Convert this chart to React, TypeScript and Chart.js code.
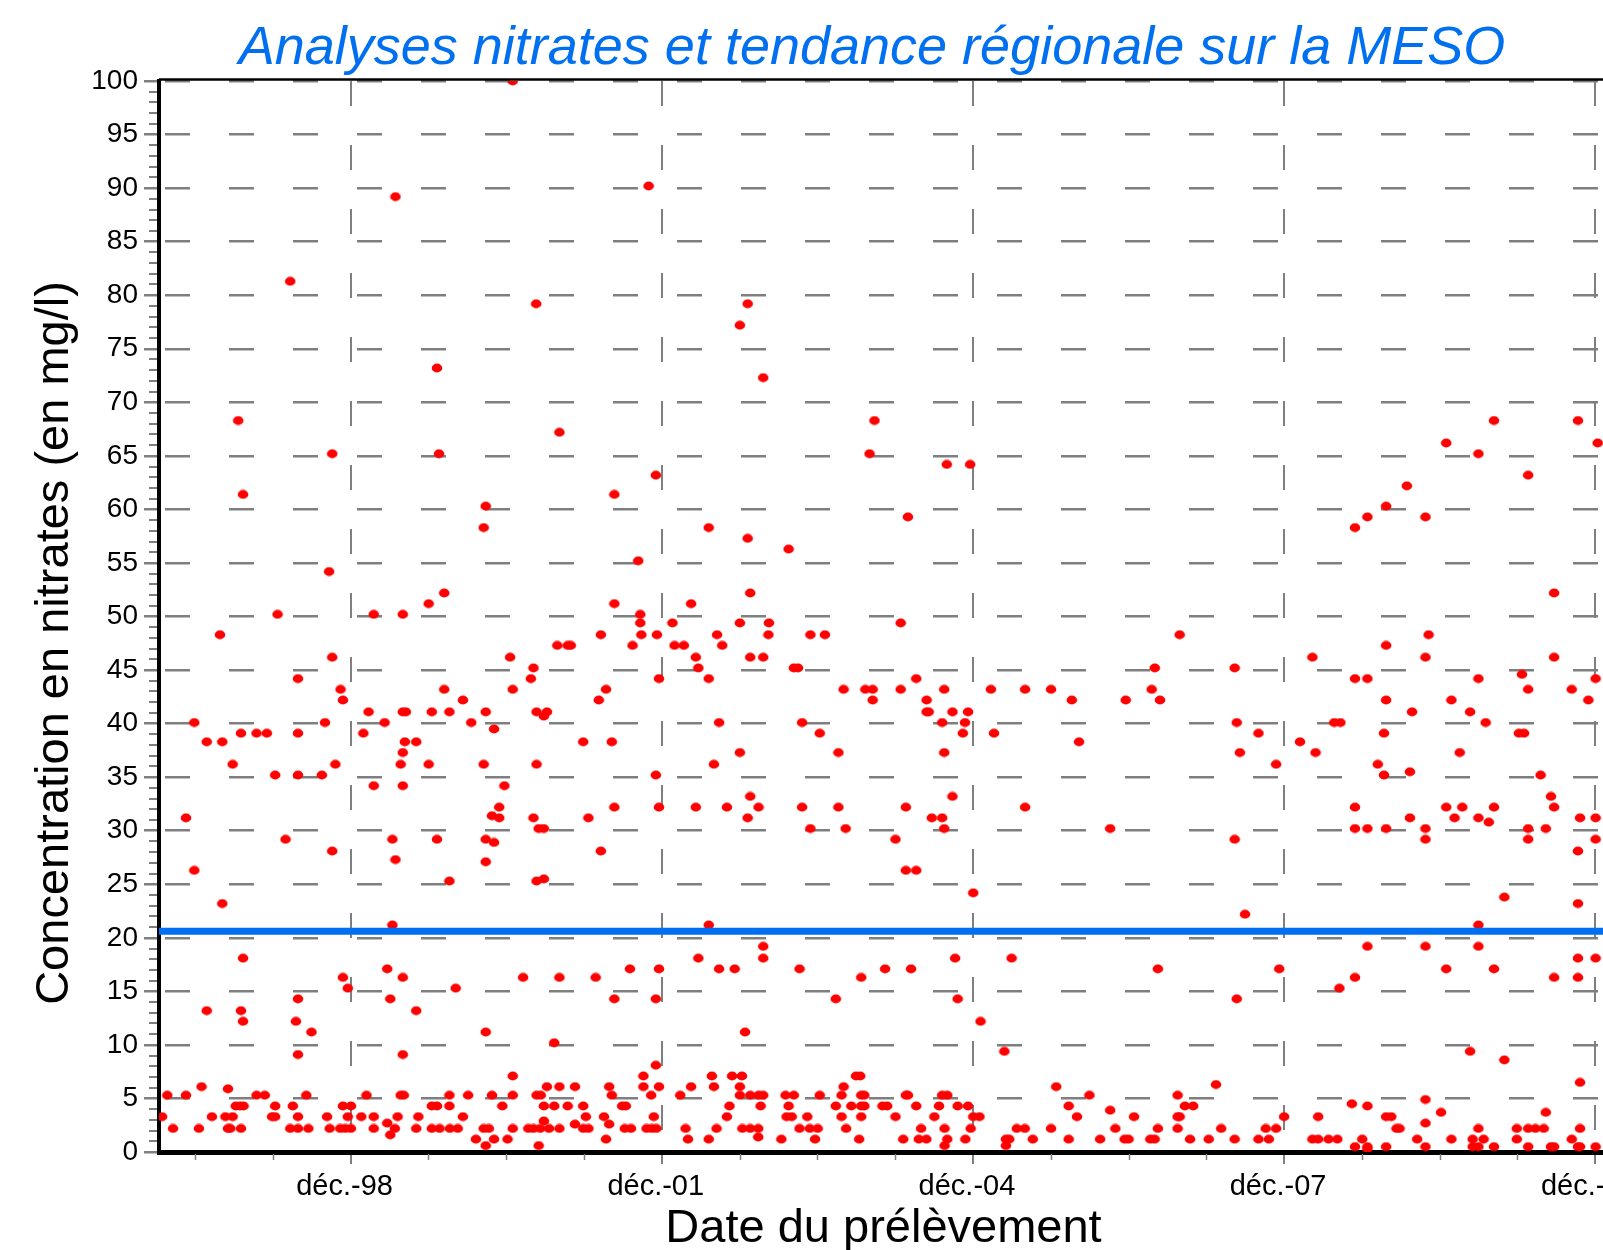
import React, { useEffect, useRef } from "react";
import { Chart, registerables } from "chart.js";

Chart.register(...registerables);

const FONT = '"Liberation Sans", Arial, Helvetica, sans-serif';

const chartTitle = "Analyses nitrates et tendance régionale sur la MESO";
const yAxisTitle = "Concentration en nitrates (en mg/l)";
const xAxisTitle = "Date du prélèvement";

// x axis: decimal years
const xAxisRange = [1997.07, 2011.04];
const xTickYears = [1998.917, 2001.917, 2004.917, 2007.917, 2010.917];
const xTickLabels = ["déc.-98", "déc.-01", "déc.-04", "déc.-07", "déc.-10"];
const xMinorStepYears = 0.75;

// y axis
const yAxisRange = [0, 100];
const yMajorStep = 5;
const yMinorStep = 1;

// regional trend (mg/l)
const regionalTrend = 20.6;

// [decimal year, nitrates mg/l]
const samples1997to2001 = [
  [2000.48, 100], [2001.79, 90.2], [1999.35, 89.2], [1998.335, 81.3], [2000.706, 79.2], [1999.75, 73.2],
  [1997.834, 68.3], [2000.93, 67.2], [1998.74, 65.2], [1999.77, 65.2], [2001.86, 63.2], [1997.88, 61.4],
  [2001.46, 61.4], [2000.22, 60.3], [2000.2, 58.3], [2001.69, 55.2], [1998.71, 54.2], [1999.82, 52.2],
  [1999.67, 51.2], [2001.46, 51.2], [1998.213, 50.2], [1999.14, 50.2], [1999.42, 50.2], [2001.71, 50.2],
  [2001.71, 49.4],
  [1997.658, 48.3], [2001.72, 48.3], [2001.87, 48.3], [2001.33, 48.3],
  [2000.91, 47.3], [2001.01, 47.3], [2001.04, 47.3], [2001.635, 47.3],
  [1998.74, 46.2], [2000.455, 46.2], [2000.68, 45.2],
  [1998.41, 44.2], [2000.655, 44.2], [2001.89, 44.2],
  [1998.82, 43.2], [1999.82, 43.2], [2000.48, 43.2], [2001.38, 43.2],
  [1998.843, 42.2], [2000.0, 42.2], [2001.31, 42.2],
  [1999.09, 41.1], [1999.42, 41.1], [1999.45, 41.1], [1999.7, 41.1], [1999.87, 41.1], [2000.22, 41.1],
  [2000.71, 41.1], [2000.81, 41.1], [2000.78, 40.7],
  [1997.41, 40.1], [1998.67, 40.1], [1999.245, 40.1], [2000.08, 40.1], [2000.3, 39.5],
  [1997.86, 39.1], [1998.01, 39.1], [1998.11, 39.1], [1998.41, 39.1], [1999.04, 39.1],
  [1997.53, 38.3], [1997.68, 38.3], [1999.44, 38.3], [1999.55, 38.3], [2001.16, 38.3], [2001.435, 38.3],
  [1999.42, 37.3],
  [1997.78, 36.2], [1998.77, 36.2], [1999.4, 36.2], [1999.67, 36.2], [2000.2, 36.2], [2000.71, 36.2],
  [1998.19, 35.2], [1998.41, 35.2], [1998.64, 35.2], [2001.86, 35.2],
  [1999.14, 34.2], [1999.42, 34.2], [2000.4, 34.2],
  [2000.35, 32.2], [2001.46, 32.2], [2001.89, 32.2], [2000.28, 31.4],
  [1997.33, 31.2], [2000.35, 31.2], [2000.68, 31.2], [2001.21, 31.2],
  [2000.73, 30.2], [2000.78, 30.2],
  [1998.29, 29.2], [1999.32, 29.2], [1999.75, 29.2], [2000.22, 29.2], [2000.3, 28.9],
  [1998.74, 28.1], [2001.33, 28.1], [1999.35, 27.3], [2000.22, 27.1], [1997.41, 26.3],
  [1999.87, 25.3], [2000.71, 25.3], [2000.78, 25.5], [1997.68, 23.2], [1999.32, 21.2], [1997.88, 18.1],
  [1999.27, 17.1], [2001.61, 17.1], [2001.89, 17.1],
  [1998.843, 16.3], [1999.42, 16.3], [2000.58, 16.3], [2000.93, 16.3], [2001.28, 16.3],
  [1998.89, 15.3], [1999.93, 15.3],
  [1998.41, 14.3], [1999.3, 14.3], [2001.46, 14.3], [2001.86, 14.3],
  [1997.53, 13.2], [1997.86, 13.2], [1999.55, 13.2], [1997.88, 12.2], [1998.39, 12.2],
  [1998.54, 11.2], [2000.22, 11.2], [2000.88, 10.2], [1998.41, 9.1], [1999.42, 9.1], [2001.86, 8.1],
  [2000.48, 7.1], [2001.74, 7.1],
  [1997.48, 6.1], [2000.81, 6.1], [2000.93, 6.1], [2001.08, 6.1], [2001.41, 6.1], [2001.74, 6.1], [2001.89, 6.1],
  [1997.735, 5.9],
  [1997.15, 5.3], [1997.33, 5.3], [1998.01, 5.3], [1998.09, 5.3], [1998.49, 5.3], [1999.07, 5.3],
  [1999.4, 5.3], [1999.43, 5.3], [1999.87, 5.3], [2000.05, 5.3], [2000.28, 5.3], [2000.48, 5.3],
  [2000.71, 5.3], [2000.75, 5.3], [2001.435, 5.3], [2001.815, 5.3],
  [1997.81, 4.3], [1997.85, 4.3], [1997.885, 4.3], [1998.19, 4.3], [1998.36, 4.3], [1998.843, 4.3],
  [1998.92, 4.3], [1999.7, 4.3], [1999.75, 4.3], [1999.87, 4.3], [2000.38, 4.3], [2000.78, 4.3],
  [2000.88, 4.3], [2001.01, 4.3], [2001.16, 4.3], [2001.535, 4.3], [2001.57, 4.3],
  [1997.1, 3.3], [1997.58, 3.3], [1997.71, 3.3], [1997.78, 3.3], [1998.16, 3.3], [1998.19, 3.3],
  [1998.41, 3.3], [1998.69, 3.3], [1998.89, 3.3], [1999.02, 3.3], [1999.14, 3.3], [1999.37, 3.3],
  [1999.57, 3.3], [2000.0, 3.3], [2001.185, 3.3], [2001.36, 3.3], [2001.84, 3.3],
  [1999.27, 2.7], [2000.78, 2.9], [2001.08, 2.6], [2001.41, 2.6],
  [1997.205, 2.2], [1997.455, 2.2], [1997.735, 2.2], [1997.757, 2.2], [1997.86, 2.2], [1998.335, 2.2],
  [1998.41, 2.2], [1998.51, 2.2], [1998.715, 2.2], [1998.817, 2.2], [1998.866, 2.2], [1998.92, 2.2],
  [1999.14, 2.2], [1999.344, 2.2], [1999.55, 2.2], [1999.7, 2.2], [1999.775, 2.2], [1999.874, 2.2],
  [1999.95, 2.2], [2000.2, 2.2], [2000.25, 2.2], [2000.48, 2.2], [2000.63, 2.2], [2000.68, 2.2],
  [2000.745, 2.2], [2000.83, 2.2], [2000.93, 2.2], [2001.16, 2.2], [2001.21, 2.2], [2001.56, 2.2],
  [2001.62, 2.2], [2001.77, 2.2], [2001.82, 2.2], [2001.865, 2.2],
  [1999.3, 1.6], [2000.125, 1.2], [2000.3, 1.2], [2000.43, 1.2], [2001.38, 1.2],
  [2000.22, 0.6], [2000.73, 0.6],
];

const samples2002to2006 = [
  [2002.745, 79.2], [2002.67, 77.2], [2002.895, 72.3], [2003.968, 68.3], [2003.92, 65.2], [2004.665, 64.2],
  [2004.89, 64.2], [2004.29, 59.3], [2002.37, 58.3], [2002.745, 57.3], [2003.14, 56.3], [2002.77, 52.2],
  [2002.2, 51.2], [2002.02, 49.4], [2002.67, 49.4], [2002.95, 49.4], [2004.22, 49.4],
  [2002.45, 48.3], [2002.945, 48.3], [2003.35, 48.3], [2003.49, 48.3],
  [2002.04, 47.3], [2002.13, 47.3], [2002.5, 47.3],
  [2002.245, 46.2], [2002.77, 46.2], [2002.895, 46.2],
  [2002.27, 45.2], [2003.19, 45.2], [2003.23, 45.2], [2006.67, 45.2],
  [2002.37, 44.2], [2004.37, 44.2],
  [2003.67, 43.2], [2003.88, 43.2], [2003.95, 43.2], [2004.22, 43.2], [2004.64, 43.2], [2005.09, 43.2],
  [2005.42, 43.2], [2005.67, 43.2], [2006.64, 43.2],
  [2003.95, 42.2], [2004.47, 42.2], [2005.87, 42.2], [2006.39, 42.2], [2006.72, 42.2],
  [2004.47, 41.1], [2004.49, 41.1], [2004.72, 41.1], [2004.87, 41.1],
  [2002.47, 40.1], [2003.27, 40.1], [2004.62, 40.1], [2004.84, 40.1],
  [2003.44, 39.1], [2004.82, 39.1], [2005.12, 39.1], [2005.94, 38.3],
  [2002.67, 37.3], [2003.62, 37.3], [2004.64, 37.3], [2002.42, 36.2],
  [2002.77, 33.2], [2004.72, 33.2],
  [2002.245, 32.2], [2002.545, 32.2], [2002.85, 32.2], [2003.27, 32.2], [2003.62, 32.2], [2004.27, 32.2],
  [2005.42, 32.2],
  [2002.745, 31.2], [2004.52, 31.2], [2004.62, 31.2],
  [2003.35, 30.2], [2003.69, 30.2], [2004.64, 30.2], [2006.24, 30.2], [2004.17, 29.2],
  [2004.27, 26.3], [2004.37, 26.3], [2004.92, 24.2], [2002.37, 21.2], [2002.895, 19.2],
  [2002.27, 18.1], [2002.895, 18.1], [2004.745, 18.1], [2005.29, 18.1],
  [2002.47, 17.1], [2002.62, 17.1], [2003.245, 17.1], [2004.07, 17.1], [2004.32, 17.1], [2006.7, 17.1],
  [2003.84, 16.3], [2003.595, 14.3], [2004.77, 14.3], [2004.99, 12.2], [2002.72, 11.2], [2005.22, 9.4],
  [2002.4, 7.1], [2002.595, 7.1], [2002.69, 7.1], [2003.79, 7.1], [2003.83, 7.1],
  [2002.2, 6.1], [2002.42, 6.1], [2002.67, 6.1], [2003.67, 6.1], [2005.72, 6.1],
  [2002.095, 5.3], [2002.67, 5.3], [2002.77, 5.3], [2002.85, 5.3], [2002.895, 5.3], [2003.11, 5.3],
  [2003.19, 5.3], [2003.44, 5.3], [2003.65, 5.3], [2003.84, 5.3], [2003.87, 5.3], [2004.27, 5.3],
  [2004.29, 5.3], [2004.62, 5.3], [2004.67, 5.3], [2006.04, 5.3],
  [2002.57, 4.3], [2002.87, 4.3], [2003.14, 4.3], [2003.595, 4.3], [2003.745, 4.3], [2003.84, 4.3],
  [2003.87, 4.3], [2004.045, 4.3], [2004.09, 4.3], [2004.37, 4.3], [2004.59, 4.3], [2004.77, 4.3],
  [2004.87, 4.3], [2005.84, 4.3], [2006.24, 3.9],
  [2002.545, 3.3], [2003.12, 3.3], [2003.17, 3.3], [2003.32, 3.3], [2003.65, 3.3], [2003.84, 3.3],
  [2004.17, 3.3], [2004.545, 3.3], [2004.92, 3.3], [2004.98, 3.3], [2005.92, 3.3], [2006.47, 3.3],
  [2002.146, 2.2], [2002.445, 2.2], [2002.694, 2.2], [2002.77, 2.2], [2002.847, 2.2], [2003.245, 2.2],
  [2003.344, 2.2], [2003.42, 2.2], [2003.694, 2.2], [2004.417, 2.2], [2004.643, 2.2], [2004.895, 2.2],
  [2005.34, 2.2], [2005.417, 2.2], [2005.67, 2.2], [2006.29, 2.2], [2006.7, 2.2],
  [2002.847, 1.4],
  [2002.17, 1.2], [2002.37, 1.2], [2003.07, 1.2], [2003.395, 1.2], [2003.82, 1.2], [2004.245, 1.2],
  [2004.395, 1.2], [2004.468, 1.2], [2004.67, 1.2], [2004.844, 1.2], [2005.235, 1.2], [2005.267, 1.2],
  [2005.494, 1.2], [2005.84, 1.2], [2006.143, 1.2], [2006.379, 1.2], [2006.417, 1.2], [2006.627, 1.2],
  [2006.669, 1.2],
  [2004.643, 0.6], [2005.235, 0.6],
];

const samples2007to2010 = [
  [2009.94, 68.3], [2010.75, 68.3], [2009.48, 66.2], [2010.94, 66.2], [2009.79, 65.2], [2010.27, 63.2],
  [2009.1, 62.2], [2008.9, 60.3], [2008.72, 59.3], [2008.6, 58.3], [2009.28, 59.3], [2010.52, 52.2],
  [2006.91, 48.3], [2009.31, 48.3], [2008.9, 47.3],
  [2008.19, 46.2], [2009.28, 46.2], [2010.52, 46.2], [2007.44, 45.2], [2010.21, 44.6],
  [2008.6, 44.2], [2008.72, 44.2], [2009.79, 44.2], [2010.92, 44.2],
  [2010.27, 43.2], [2010.69, 43.2],
  [2008.9, 42.2], [2009.53, 42.2], [2010.85, 42.2],
  [2009.15, 41.1], [2009.71, 41.1],
  [2007.46, 40.1], [2008.4, 40.1], [2008.46, 40.1], [2009.86, 40.1],
  [2007.67, 39.1], [2008.88, 39.1], [2010.18, 39.1], [2010.23, 39.1], [2008.07, 38.3],
  [2007.49, 37.3], [2008.22, 37.3], [2009.61, 37.3],
  [2007.84, 36.2], [2008.82, 36.2], [2009.13, 35.5], [2008.88, 35.2], [2010.39, 35.2], [2010.49, 33.2],
  [2008.6, 32.2], [2009.48, 32.2], [2009.635, 32.2], [2009.94, 32.2], [2010.52, 32.2],
  [2009.13, 31.2], [2009.56, 31.2], [2009.79, 31.2], [2010.77, 31.2], [2010.92, 31.2], [2009.89, 30.8],
  [2008.6, 30.2], [2008.72, 30.2], [2008.9, 30.2], [2009.28, 30.2], [2010.27, 30.2], [2010.44, 30.2],
  [2007.44, 29.2], [2009.28, 29.2], [2010.27, 29.2], [2010.92, 29.2], [2010.75, 28.1],
  [2010.04, 23.8], [2010.75, 23.2], [2007.54, 22.2], [2009.79, 21.2],
  [2008.72, 19.2], [2009.28, 19.2], [2009.79, 19.2], [2010.75, 18.1], [2010.92, 18.1],
  [2007.87, 17.1], [2009.48, 17.1], [2009.94, 17.1],
  [2008.6, 16.3], [2010.52, 16.3], [2010.75, 16.3], [2008.45, 15.3], [2007.46, 14.3],
  [2009.71, 9.4], [2010.04, 8.6], [2010.77, 6.5], [2007.26, 6.3], [2006.89, 5.3], [2009.28, 4.9],
  [2008.57, 4.5], [2006.96, 4.3], [2007.04, 4.3], [2008.72, 4.3], [2009.43, 3.7], [2010.44, 3.7],
  [2006.89, 3.3], [2006.91, 3.3], [2007.917, 3.3], [2008.245, 3.3], [2008.9, 3.3], [2008.95, 3.3],
  [2009.28, 2.7],
  [2006.89, 2.2], [2007.31, 2.2], [2007.74, 2.2], [2007.84, 2.2], [2009.0, 2.2], [2009.03, 2.2],
  [2009.79, 2.2], [2010.16, 2.2], [2010.27, 2.2], [2010.34, 2.2], [2010.42, 2.2], [2010.77, 2.2],
  [2007.01, 1.2], [2007.19, 1.2], [2007.44, 1.2], [2007.67, 1.2], [2007.77, 1.2], [2008.19, 1.2],
  [2008.245, 1.2], [2008.345, 1.2], [2008.43, 1.2], [2008.67, 1.2], [2009.2, 1.2], [2009.53, 1.2],
  [2009.735, 1.2], [2009.84, 1.2], [2010.16, 1.2], [2010.69, 1.2],
  [2008.6, 0.5], [2008.72, 0.5], [2008.9, 0.5], [2009.28, 0.5], [2009.735, 0.5], [2009.79, 0.5],
  [2009.94, 0.5], [2010.27, 0.5], [2010.49, 0.5], [2010.52, 0.5], [2010.75, 0.5], [2010.77, 0.5],
  [2010.92, 0.5], [2008.72, 0.3],
];

const POINT_RED = "#ff0000";
const TREND_BLUE = "#0070f0";
const GRID_GREY = "#7f7f7f";

function makeDot(): HTMLCanvasElement {
  const c = document.createElement("canvas");
  c.width = 12;
  c.height = 10;
  const g = c.getContext("2d");
  if (g) {
    g.fillStyle = POINT_RED;
    g.beginPath();
    g.ellipse(6, 5, 5.3, 4.4, 0, 0, Math.PI * 2);
    g.fill();
  }
  return c;
}

const decorations = {
  id: "decorations",
  beforeDatasetsDraw(chart: any) {
    const { ctx, chartArea, scales } = chart;
    const x = scales.x;
    const y = scales.y;
    ctx.save();
    ctx.strokeStyle = GRID_GREY;
    ctx.lineWidth = 2;
    // minor y ticks
    for (let v = yAxisRange[0]; v <= yAxisRange[1]; v += yMinorStep) {
      if (v % yMajorStep === 0) continue;
      const py = Math.round(y.getPixelForValue(v));
      ctx.beginPath();
      ctx.moveTo(chartArea.left - 10, py);
      ctx.lineTo(chartArea.left - 2, py);
      ctx.stroke();
    }
    // minor x ticks
    ctx.lineWidth = 1.5;
    for (let k = -8; k <= 24; k++) {
      if (k % 4 === 0) continue;
      const v = xTickYears[0] + k * xMinorStepYears;
      if (v < x.min || v > x.max) continue;
      const px = Math.round(x.getPixelForValue(v)) + 0.5;
      ctx.beginPath();
      ctx.moveTo(px, chartArea.bottom + 2);
      ctx.lineTo(px, chartArea.bottom + 8);
      ctx.stroke();
    }
    // top frame line
    ctx.strokeStyle = "#000";
    ctx.lineWidth = 2.5;
    ctx.beginPath();
    ctx.moveTo(chartArea.left, chartArea.top - 1.5);
    ctx.lineTo(chartArea.right, chartArea.top - 1.5);
    ctx.stroke();
    ctx.restore();
  },
  afterDraw(chart: any) {
    const { ctx } = chart;
    ctx.save();
    ctx.fillStyle = TREND_BLUE;
    ctx.font = `italic 54px ${FONT}`;
    ctx.textAlign = "center";
    ctx.textBaseline = "alphabetic";
    ctx.fillText(chartTitle, 872, 64);
    ctx.restore();

    ctx.save();
    ctx.fillStyle = "#000";
    ctx.font = `47px ${FONT}`;
    ctx.textAlign = "center";
    ctx.textBaseline = "alphabetic";
    ctx.translate(68, 643);
    ctx.rotate(-Math.PI / 2);
    ctx.fillText(yAxisTitle, 0, 0);
    ctx.restore();
  },
};

export default function App() {
  const canvasRef = useRef<HTMLCanvasElement | null>(null);

  useEffect(() => {
    const canvas = canvasRef.current;
    if (!canvas) return;
    const points = [...samples1997to2001, ...samples2002to2006, ...samples2007to2010].map(([x, y]) => ({ x, y }));
    const dot = makeDot();
    const chart = new Chart(canvas, {
      type: "scatter",
      data: {
        datasets: [
          {
            type: "line",
            label: "Tendance régionale",
            data: [
              { x: xAxisRange[0], y: regionalTrend },
              { x: xAxisRange[1], y: regionalTrend },
            ],
            borderColor: TREND_BLUE,
            backgroundColor: TREND_BLUE,
            borderWidth: 7,
            pointRadius: 0,
            fill: false,
            order: 0,
          } as any,
          {
            type: "scatter",
            label: "Analyses nitrates",
            data: points,
            pointStyle: dot,
            backgroundColor: POINT_RED,
            borderColor: POINT_RED,
            borderWidth: 0,
            pointRadius: 5,
            pointHoverRadius: 5,
            order: 1,
          } as any,
        ],
      },
      options: {
        responsive: false,
        animation: false,
        devicePixelRatio: 1,
        layout: { padding: { left: 0, right: 40, top: 81, bottom: 0 } },
        plugins: {
          legend: { display: false },
          tooltip: { enabled: false },
          title: { display: false },
        },
        scales: {
          x: {
            type: "linear",
            min: xAxisRange[0],
            max: xAxisRange[1],
            afterBuildTicks: (axis: any) => {
              axis.ticks = xTickYears.map((value) => ({ value }));
            },
            afterFit: (axis: any) => {
              axis.height = 98;
            },
            ticks: {
              autoSkip: false,
              maxRotation: 0,
              padding: 6,
              labelOffset: -6,
              color: "#000",
              font: { family: FONT, size: 29 },
              callback: (_v: any, index: number) => xTickLabels[index] ?? "",
            },
            grid: {
              color: GRID_GREY,
              lineWidth: 2,
              tickLength: 12,
              tickColor: GRID_GREY,
              tickWidth: 2,
            },
            border: { display: true, color: "#000", width: 5, dash: [25, 39] },
            title: {
              display: true,
              text: xAxisTitle,
              color: "#000",
              font: { family: FONT, size: 47, lineHeight: 1 },
              padding: { top: 0, bottom: -3 },
            },
          },
          y: {
            type: "linear",
            min: yAxisRange[0],
            max: yAxisRange[1],
            afterFit: (axis: any) => {
              axis.width = 159;
            },
            ticks: {
              stepSize: yMajorStep,
              padding: 6,
              color: "#000",
              font: { family: FONT, size: 28 },
            },
            grid: {
              color: GRID_GREY,
              lineWidth: 2.5,
              tickLength: 15,
              tickColor: GRID_GREY,
              tickWidth: 2.5,
            },
            border: { display: true, color: "#000", width: 4, dash: [25, 39], dashOffset: -4 },
            title: { display: false },
          },
        },
      } as any,
      plugins: [decorations],
    });
    return () => chart.destroy();
  }, []);

  return (
    <div
      style={{
        position: "fixed",
        left: 0,
        top: 0,
        width: 1603,
        height: 1250,
        overflow: "hidden",
        background: "#fff",
      }}
    >
      <canvas ref={canvasRef} width={1650} height={1250} style={{ display: "block", width: 1650, height: 1250 }} />
    </div>
  );
}
